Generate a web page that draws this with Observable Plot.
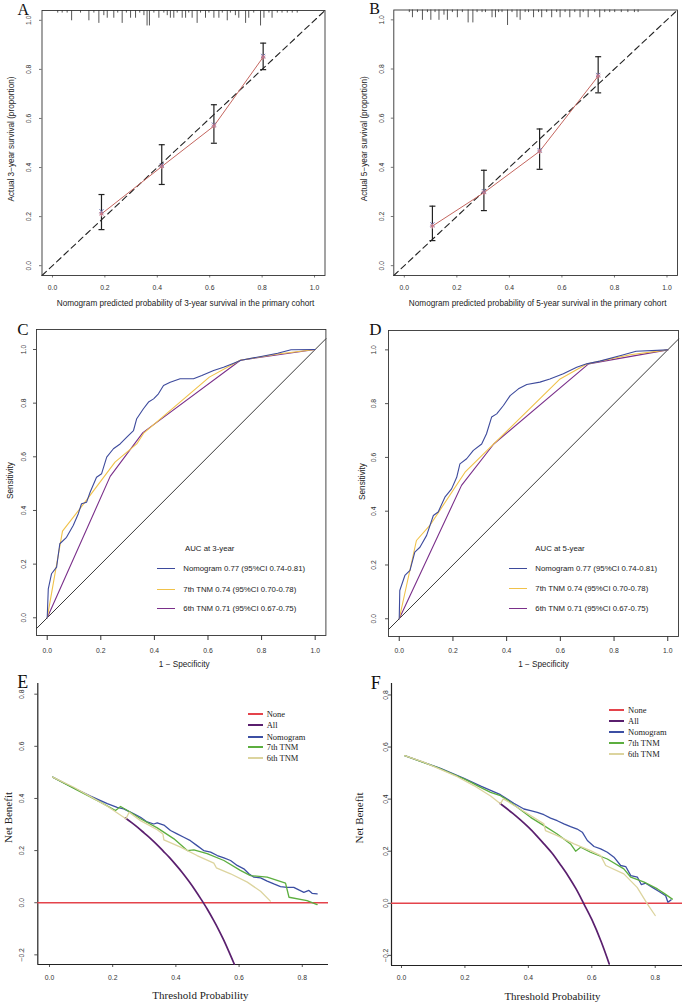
<!DOCTYPE html>
<html><head><meta charset="utf-8">
<script src="https://cdn.jsdelivr.net/npm/d3@7"></script>
<script src="https://cdn.jsdelivr.net/npm/@observablehq/plot@0.6"></script>
<style>
body{margin:0;background:#fff;}
#fig{position:relative;width:685px;height:1003px;overflow:hidden;background:#fff;}
#fig svg{position:absolute;overflow:visible;background:transparent;}
.leg{position:absolute;white-space:nowrap;line-height:1;color:#222;}
.legline{position:absolute;}
</style></head><body><div id="fig"></div>
<script>
// ---------- DATA ----------
const unitTicks = [0, 0.2, 0.4, 0.6, 0.8, 1.0];
const dcaXTicks = [0, 0.2, 0.4, 0.6, 0.8];
const dcaYTicks = [-0.2, 0, 0.2, 0.4, 0.6, 0.8];

// A: 3-year calibration
const calA_pred = [0.187, 0.417, 0.616, 0.804];
const calA_obs  = [0.211, 0.404, 0.569, 0.850];
const calA_lo   = [0.147, 0.331, 0.499, 0.799];
const calA_hi   = [0.290, 0.493, 0.656, 0.907];
const calA_app  = [0.222, 0.410, 0.575, 0.855];
const rugA_x = [0.020,0.037,0.056,0.073,0.107,0.139,0.158,0.177,0.196,0.209,0.234,0.249,0.266,0.282,0.298,0.317,0.333,0.349,0.361,0.370,0.387,0.406,0.425,0.438,0.450,0.463,0.476,0.495,0.508,0.520,0.533,0.552,0.565,0.584,0.597,0.616,0.635,0.648,0.667,0.679,0.698,0.711,0.737,0.749,0.768,0.794,0.807,0.826,0.838,0.858,0.876,0.896,0.915,0.934];
const rugA_n = [1,1,1,4,1,4,1,5,2,3,3,1,5,1,3,3,1,2,6,6,1,3,1,2,3,3,1,3,3,1,3,5,1,3,1,3,3,1,4,1,2,3,5,3,1,6,3,1,3,1,1,1,1,1];

// B: 5-year calibration
const calB_pred = [0.107, 0.303, 0.515, 0.738];
const calB_obs  = [0.161, 0.297, 0.465, 0.771];
const calB_lo   = [0.102, 0.224, 0.392, 0.703];
const calB_hi   = [0.242, 0.388, 0.556, 0.850];
const calB_app  = [0.168, 0.303, 0.470, 0.776];
const rugB_x = [0.019,0.031,0.050,0.069,0.088,0.101,0.117,0.132,0.151,0.164,0.183,0.202,0.221,0.243,0.261,0.277,0.296,0.309,0.334,0.347,0.359,0.372,0.393,0.410,0.429,0.441,0.460,0.473,0.492,0.511,0.523,0.542,0.561,0.580,0.593,0.612,0.630,0.649,0.669,0.681,0.700,0.725,0.744,0.763,0.782,0.801,0.826,0.851,0.876,0.890];
const rugB_n = [1,3,1,4,1,4,1,4,2,4,1,3,1,5,5,1,1,1,3,3,1,1,6,1,3,4,1,1,3,1,3,1,3,1,3,1,3,1,3,1,3,1,3,1,1,1,1,1,1,1];

// C: ROC at 3 years  [1-specificity, sensitivity]
const rocC_nomo = [[0,0],[0.004,0.108],[0.016,0.164],[0.035,0.189],[0.047,0.276],[0.072,0.300],[0.097,0.344],[0.116,0.388],[0.128,0.425],[0.147,0.431],[0.160,0.468],[0.184,0.524],[0.203,0.537],[0.222,0.599],[0.247,0.630],[0.272,0.648],[0.297,0.673],[0.322,0.698],[0.334,0.742],[0.359,0.779],[0.378,0.804],[0.397,0.816],[0.415,0.835],[0.434,0.866],[0.459,0.878],[0.496,0.891],[0.546,0.891],[0.577,0.903],[0.621,0.922],[0.658,0.934],[0.696,0.949],[0.723,0.960],[0.798,0.974],[0.860,0.986],[0.910,0.999],[1,1]];
const rocC_tnm7 = [[0,0],[0.057,0.323],[0.141,0.431],[0.253,0.580],[0.334,0.648],[0.360,0.688],[0.605,0.897],[0.720,0.960],[0.860,0.983],[1,1]];
const rocC_tnm6 = [[0,0],[0.235,0.527],[0.357,0.690],[0.721,0.960],[1,1]];

// D: ROC at 5 years
const rocD_nomo = [[0,0],[0.002,0.105],[0.021,0.161],[0.040,0.180],[0.058,0.248],[0.077,0.266],[0.102,0.310],[0.127,0.384],[0.145,0.397],[0.170,0.452],[0.195,0.483],[0.214,0.526],[0.226,0.576],[0.251,0.595],[0.276,0.626],[0.307,0.650],[0.325,0.688],[0.344,0.750],[0.363,0.762],[0.388,0.793],[0.413,0.830],[0.444,0.855],[0.475,0.871],[0.524,0.880],[0.561,0.892],[0.611,0.911],[0.661,0.935],[0.698,0.948],[0.747,0.958],[0.832,0.981],[0.882,0.995],[1,1]];
const rocD_tnm7 = [[0,0],[0.064,0.291],[0.114,0.347],[0.245,0.545],[0.352,0.650],[0.599,0.892],[0.700,0.948],[0.860,0.982],[1,1]];
const rocD_tnm6 = [[0,0],[0.232,0.496],[0.352,0.650],[0.705,0.948],[1,1]];

const rocNames = ["Nomogram 0.77 (95%CI 0.74-0.81)", "7th TNM 0.74 (95%CI 0.70-0.78)", "6th TNM 0.71 (95%CI 0.67-0.75)"];

// E: decision curves, 3 years  [threshold, net benefit]
const dcaE_all  = [[0.24,0.325],[0.26,0.307],[0.28,0.288],[0.30,0.267],[0.32,0.246],[0.34,0.223],[0.36,0.198],[0.38,0.173],[0.40,0.145],[0.42,0.116],[0.44,0.084],[0.46,0.050],[0.48,0.013],[0.50,-0.026],[0.52,-0.069],[0.535,-0.103],[0.55,-0.140],[0.565,-0.180],[0.585,-0.236]];
const dcaE_nomo = [[0.01,0.482],[0.077,0.440],[0.130,0.409],[0.183,0.380],[0.214,0.366],[0.235,0.360],[0.267,0.341],[0.288,0.328],[0.309,0.310],[0.330,0.302],[0.341,0.306],[0.362,0.298],[0.383,0.277],[0.404,0.264],[0.425,0.251],[0.446,0.238],[0.467,0.219],[0.488,0.200],[0.510,0.194],[0.531,0.181],[0.552,0.172],[0.573,0.162],[0.594,0.143],[0.615,0.130],[0.631,0.111],[0.647,0.098],[0.668,0.095],[0.689,0.083],[0.710,0.072],[0.731,0.062],[0.752,0.059],[0.773,0.059],[0.789,0.049],[0.805,0.040],[0.821,0.047],[0.831,0.036],[0.847,0.034]];
const dcaE_tnm7 = [[0.01,0.482],[0.088,0.432],[0.161,0.386],[0.209,0.354],[0.225,0.369],[0.256,0.347],[0.288,0.322],[0.341,0.287],[0.394,0.245],[0.436,0.200],[0.457,0.203],[0.499,0.188],[0.552,0.162],[0.604,0.124],[0.636,0.104],[0.689,0.098],[0.747,0.075],[0.758,0.021],[0.815,0.008],[0.847,-0.007]];
const dcaE_tnm6 = [[0.01,0.482],[0.077,0.443],[0.130,0.407],[0.183,0.370],[0.230,0.332],[0.242,0.322],[0.252,0.347],[0.288,0.315],[0.341,0.280],[0.359,0.264],[0.362,0.241],[0.415,0.213],[0.467,0.181],[0.520,0.152],[0.528,0.134],[0.573,0.111],[0.626,0.079],[0.668,0.044],[0.699,0.006]];

// F: decision curves, 5 years
const dcaF_all  = [[0.31,0.384],[0.35,0.346],[0.375,0.320],[0.40,0.292],[0.425,0.261],[0.45,0.227],[0.475,0.192],[0.50,0.150],[0.525,0.106],[0.55,0.056],[0.575,-0.002],[0.60,-0.062],[0.63,-0.149],[0.655,-0.233]];
const dcaF_nomo = [[0.01,0.567],[0.123,0.518],[0.197,0.480],[0.250,0.450],[0.312,0.417],[0.354,0.384],[0.386,0.362],[0.407,0.356],[0.428,0.349],[0.449,0.340],[0.470,0.327],[0.491,0.317],[0.512,0.305],[0.533,0.294],[0.554,0.285],[0.570,0.273],[0.586,0.241],[0.607,0.218],[0.628,0.209],[0.649,0.196],[0.670,0.177],[0.691,0.145],[0.707,0.141],[0.723,0.106],[0.744,0.100],[0.756,0.072],[0.770,0.077],[0.791,0.061],[0.812,0.045],[0.833,0.029],[0.840,0.004],[0.850,0.013]];
const dcaF_tnm7 = [[0.01,0.567],[0.112,0.522],[0.197,0.478],[0.218,0.465],[0.249,0.445],[0.281,0.426],[0.312,0.413],[0.333,0.397],[0.365,0.369],[0.407,0.330],[0.449,0.298],[0.491,0.266],[0.533,0.228],[0.549,0.200],[0.565,0.215],[0.596,0.196],[0.649,0.170],[0.701,0.132],[0.723,0.100],[0.765,0.081],[0.807,0.055],[0.828,0.038],[0.854,0.016]];
const dcaF_tnm6 = [[0.01,0.567],[0.070,0.542],[0.123,0.514],[0.176,0.486],[0.228,0.452],[0.281,0.412],[0.312,0.382],[0.321,0.401],[0.365,0.369],[0.407,0.337],[0.449,0.305],[0.454,0.279],[0.491,0.260],[0.544,0.228],[0.596,0.202],[0.628,0.183],[0.644,0.145],[0.701,0.113],[0.743,0.061],[0.775,-0.002],[0.800,-0.047]];

const dcaNames = ["None", "All", "Nomogram", "7th TNM", "6th TNM"];

// ---------- STYLE ----------
const SANS = "'Liberation Sans', Arial, sans-serif";
const SERIF = "'Liberation Serif', 'Times New Roman', serif";
const rocColors = ["#3d4a9c", "#f0c24a", "#7a2f8a"];
const dcaColors = ["#e4434b", "#5a1f6e", "#3c4fa3", "#5cae3f", "#dcd49e"];
const CAL_RED = "#c4665f", CAL_BLUE = "#5360a8";
const f1 = d3.format(".1f");
const fig = document.getElementById("fig");
const capSymbol = {draw(ctx, size) { const w = Math.sqrt(size / Math.PI); ctx.moveTo(-w, 0); ctx.lineTo(w, 0); }};

function place(svg, left, top) {
  svg.style.left = left + "px"; svg.style.top = top + "px";
  fig.appendChild(svg);
}

function textMarks(o) {
  return [
    Plot.text(o.xticks, {x: d => d, text: d => f1(d), frameAnchor: "bottom", dy: o.xtdy, lineAnchor: "middle", fontSize: 6.8, fill: "#333", fontFamily: SANS}),
    Plot.text(o.yticks, {y: d => d, text: d => f1(d), frameAnchor: "left", dx: o.ytdx, rotate: -90, lineAnchor: "middle", textAnchor: "middle", fontSize: 6.8, fill: "#333", fontFamily: SANS}),
    Plot.text([o.xtitle], {text: d => d, frameAnchor: "bottom", dx: o.xtitdx, dy: o.xtitdy, lineAnchor: "middle", textAnchor: "middle", fontSize: o.titleSize, fontFamily: o.titleFont, fill: "#222"}),
    Plot.text([o.ytitle], {text: d => d, frameAnchor: "left", dx: o.ytitdx, dy: o.ytitdy, rotate: -90, lineAnchor: "middle", textAnchor: "middle", fontSize: o.titleSize, fontFamily: o.titleFont, fill: "#222"}),
    Plot.text([o.letter], {text: d => d, frameAnchor: "top-left", dx: o.ldx, dy: o.ldy, textAnchor: "start", lineAnchor: "bottom", fontSize: o.lsize, fontFamily: SERIF, fill: "#111"})
  ];
}

function base(o, marks) {
  return Plot.plot({
    width: o.w, height: o.h,
    marginLeft: o.ml, marginRight: o.mr, marginTop: o.mt, marginBottom: o.mb,
    x: {domain: o.xdom, label: null, axis: null},
    y: {domain: o.ydom, label: null, axis: null},
    style: {background: "transparent", fontFamily: SANS, overflow: "visible"},
    marks
  });
}

// ---------- CALIBRATION ----------
function calPanel(o) {
  const cal = o.pred.map((p, i) => ({p, obs: o.obs[i], lo: o.lo[i], hi: o.hi[i], app: o.app[i]}));
  const rug = o.rugX.map((x, i) => ({x, n: o.rugN[i]}));
  const top = o.ydom[1];
  const svg = base(o, [
    Plot.ruleX(rug, {x: "x", y1: top, y2: d => top - d.n * o.rugUnit, stroke: "#444", strokeWidth: 0.9}),
    Plot.line(o.xdom, {x: d => d, y: d => d, stroke: "#222", strokeWidth: 1.1, strokeDasharray: "6,4"}),
    Plot.axisX({ticks: unitTicks, tickSize: 2.5, tickFormat: () => "", stroke: "#777", label: null}),
    Plot.axisY({ticks: unitTicks, tickSize: 2.5, tickFormat: () => "", stroke: "#777", label: null}),
    Plot.ruleX(cal, {x: "p", y1: "lo", y2: "hi", stroke: "#222", strokeWidth: 1.2}),
    Plot.dot(cal, {x: "p", y: "lo", symbol: capSymbol, r: 3, fill: "none", stroke: "#222", strokeWidth: 1.2}),
    Plot.dot(cal, {x: "p", y: "hi", symbol: capSymbol, r: 3, fill: "none", stroke: "#222", strokeWidth: 1.2}),
    Plot.line(cal, {x: "p", y: "obs", stroke: CAL_RED, strokeWidth: 1}),
    Plot.dot(cal, {x: "p", y: "app", symbol: "times", r: 2, stroke: CAL_BLUE, strokeWidth: 0.9}),
    Plot.dot(cal, {x: "p", y: "obs", symbol: "asterisk", r: 2.4, stroke: "#c77a8a", strokeWidth: 1}),
    Plot.frame({stroke: "#333", strokeWidth: 0.9}),
    ...textMarks(o)
  ]);
  place(svg, o.left, o.top);
}

calPanel({left: 0, top: 0, w: 342, h: 310, ml: 41.5, mr: 17.5, mt: 10, mb: 35,
  xdom: [-0.04, 1.04], ydom: [-0.04, 1.04],
  pred: calA_pred, obs: calA_obs, lo: calA_lo, hi: calA_hi, app: calA_app, rugX: rugA_x, rugN: rugA_n, rugUnit: 0.0105,
  xticks: unitTicks, yticks: unitTicks, xtdy: 12, ytdx: -13.2,
  xtitle: "Nomogram predicted probability of 3-year survival in the primary cohort", xtitdx: 2, xtitdy: 28,
  ytitle: "Actual 3\u2212year survival (proportion)", ytitdx: -30.5, ytitdy: -4,
  titleSize: 8.2, titleFont: SANS, letter: "A", ldx: -24.5, ldy: 4, lsize: 16});

calPanel({left: 342, top: 0, w: 343, h: 310, ml: 51.3, mr: 8, mt: 9.5, mb: 35,
  xdom: [-0.04, 1.04], ydom: [-0.04, 1.04],
  pred: calB_pred, obs: calB_obs, lo: calB_lo, hi: calB_hi, app: calB_app, rugX: rugB_x, rugN: rugB_n, rugUnit: 0.0105,
  xticks: unitTicks, yticks: unitTicks, xtdy: 12, ytdx: -12.3,
  xtitle: "Nomogram predicted probability of 5-year survival in the primary cohort", xtitdx: 2, xtitdy: 28,
  ytitle: "Actual 5\u2212year survival (proportion)", ytitdx: -29.6, ytitdy: -4,
  titleSize: 8.2, titleFont: SANS, letter: "B", ldx: -24.6, ldy: 4, lsize: 16});

// ---------- ROC ----------
function rocPanel(o) {
  const svg = base(o, [
    Plot.line(o.xdom, {x: d => d, y: d => d, stroke: "#222", strokeWidth: 0.9}),
    Plot.axisX({ticks: unitTicks, tickSize: 5, tickFormat: () => "", stroke: "#333", label: null}),
    Plot.axisY({ticks: unitTicks, tickSize: 3, tickFormat: () => "", stroke: "#555", label: null}),
    Plot.line(o.series[2], {x: d => d[0], y: d => d[1], stroke: rocColors[2], strokeWidth: 1.1}),
    Plot.line(o.series[1], {x: d => d[0], y: d => d[1], stroke: rocColors[1], strokeWidth: 1.1}),
    Plot.line(o.series[0], {x: d => d[0], y: d => d[1], stroke: rocColors[0], strokeWidth: 1.1}),
    Plot.frame({stroke: "#333", strokeWidth: 0.9}),
    ...textMarks(o)
  ]);
  place(svg, o.left, o.top);
}

rocPanel({left: 0, top: 310, w: 342, h: 365, ml: 36, mr: 16.6, mt: 19, mb: 40,
  xdom: [-0.04, 1.04], ydom: [-0.066, 1.0745], series: [rocC_nomo, rocC_tnm7, rocC_tnm6],
  xticks: unitTicks, yticks: unitTicks, xtdy: 15, ytdx: -12.7,
  xtitle: "1 \u2212 Specificity", xtitdx: 3, xtitdy: 29,
  ytitle: "Sensitivity", ytitdx: -26, ytitdy: -2,
  titleSize: 8.2, titleFont: SANS, letter: "C", ldx: -19.3, ldy: 5, lsize: 17});

rocPanel({left: 342, top: 310, w: 343, h: 365, ml: 46, mr: 7, mt: 20, mb: 39,
  xdom: [-0.04, 1.04], ydom: [-0.066, 1.072], series: [rocD_nomo, rocD_tnm7, rocD_tnm6],
  xticks: unitTicks, yticks: unitTicks, xtdy: 14, ytdx: -14.3,
  xtitle: "1 \u2212 Specificity", xtitdx: 10, xtitdy: 28,
  ytitle: "Sensitivity", ytitdx: -26, ytitdy: -2,
  titleSize: 8.2, titleFont: SANS, letter: "D", ldx: -19.3, ldy: 4, lsize: 17});

// ---------- DCA ----------
function dcaPanel(o) {
  const s = o.series;
  const svg = base(o, [
    Plot.axisX({ticks: dcaXTicks, tickSize: 3, tickFormat: () => "", stroke: "#555", label: null}),
    Plot.axisY({ticks: dcaYTicks, tickSize: 3, tickFormat: () => "", stroke: "#555", label: null}),
    Plot.ruleX([o.xdom[0]], {stroke: "#222", strokeWidth: 1.2}),
    Plot.ruleY([o.ydom[0]], {stroke: "#222", strokeWidth: 1.2}),
    Plot.ruleY([0], {stroke: dcaColors[0], strokeWidth: 1.4}),
    Plot.line(s[0], {x: d => d[0], y: d => d[1], curve: "monotone-x", stroke: dcaColors[1], strokeWidth: 1.7}),
    Plot.line(s[1], {x: d => d[0], y: d => d[1], stroke: dcaColors[2], strokeWidth: 1.3}),
    Plot.line(s[2], {x: d => d[0], y: d => d[1], stroke: dcaColors[3], strokeWidth: 1.3}),
    Plot.line(s[3], {x: d => d[0], y: d => d[1], stroke: dcaColors[4], strokeWidth: 1.3}),
    ...textMarks(o)
  ]);
  place(svg, o.left, o.top);
}

dcaPanel({left: 0, top: 665, w: 342, h: 338, ml: 37.3, mr: 14, mt: 18, mb: 39,
  xdom: [-0.037, 0.883], ydom: [-0.237, 0.841], series: [dcaE_all, dcaE_nomo, dcaE_tnm7, dcaE_tnm6],
  xticks: dcaXTicks, yticks: dcaYTicks, xtdy: 13, ytdx: -15.6,
  xtitle: "Threshold Probability", xtitdx: 17.3, xtitdy: 31,
  ytitle: "Net Benefit", ytitdx: -29.3, ytitdy: -6.5,
  titleSize: 11, titleFont: SERIF, letter: "E", ldx: -20.6, ldy: 4, lsize: 18});

dcaPanel({left: 342, top: 665, w: 343, h: 338, ml: 49, mr: 3, mt: 18, mb: 38,
  xdom: [-0.0315, 0.886], ydom: [-0.239, 0.844], series: [dcaF_all, dcaF_nomo, dcaF_tnm7, dcaF_tnm6],
  xticks: dcaXTicks, yticks: dcaYTicks, xtdy: 12, ytdx: -6,
  xtitle: "Threshold Probability", xtitdx: 15.5, xtitdy: 31,
  ytitle: "Net Benefit", ytitdx: -32.3, ytitdy: -6.5,
  titleSize: 11, titleFont: SERIF, letter: "F", ldx: -20.7, ldy: 5, lsize: 18});

// ---------- LEGENDS (HTML) ----------
function legend(names, colors, o) {
  if (o.head) {
    const h = document.createElement("div");
    h.className = "leg"; h.textContent = o.head;
    h.style.cssText += `left:${o.textLeft + o.headDx}px;top:${o.headY}px;font:${o.size}px ${o.font};transform:translateY(-50%);`;
    fig.appendChild(h);
  }
  names.forEach((n, i) => {
    const y = Math.round(o.ys[i]);
    const l = document.createElement("div");
    l.className = "legline";
    l.style.cssText += `left:${Math.round(o.lineLeft)}px;width:${o.lineW}px;top:${y - Math.floor(o.lw / 2)}px;height:${o.lw}px;background:${colors[i]};`;
    fig.appendChild(l);
    const t = document.createElement("div");
    t.className = "leg"; t.textContent = n;
    t.style.cssText += `left:${o.textLeft}px;top:${o.ys[i]}px;font:${o.size}px ${o.font};transform:translateY(-50%);`;
    fig.appendChild(t);
  });
}
legend(rocNames, rocColors, {head: "AUC at 3-year", headDx: 1.7, headY: 548, lineLeft: 157, lineW: 18, textLeft: 183.3, ys: [567.7, 589.3, 608.3], lw: 1, size: 7.8, font: SANS});
legend(rocNames, rocColors, {head: "AUC at 5-year", headDx: 0, headY: 547.7, lineLeft: 508.7, lineW: 18, textLeft: 535.3, ys: [567.7, 588.3, 607.7], lw: 1, size: 7.8, font: SANS});
legend(dcaNames, dcaColors, {lineLeft: 248, lineW: 15, textLeft: 266.7, ys: [714, 725, 736.7, 747.3, 758.3], lw: 2, size: 8.5, font: SERIF});
legend(dcaNames, dcaColors, {lineLeft: 608.7, lineW: 15, textLeft: 628, ys: [710, 720.7, 732, 742.7, 754], lw: 2, size: 8.5, font: SERIF});
</script></body></html>
